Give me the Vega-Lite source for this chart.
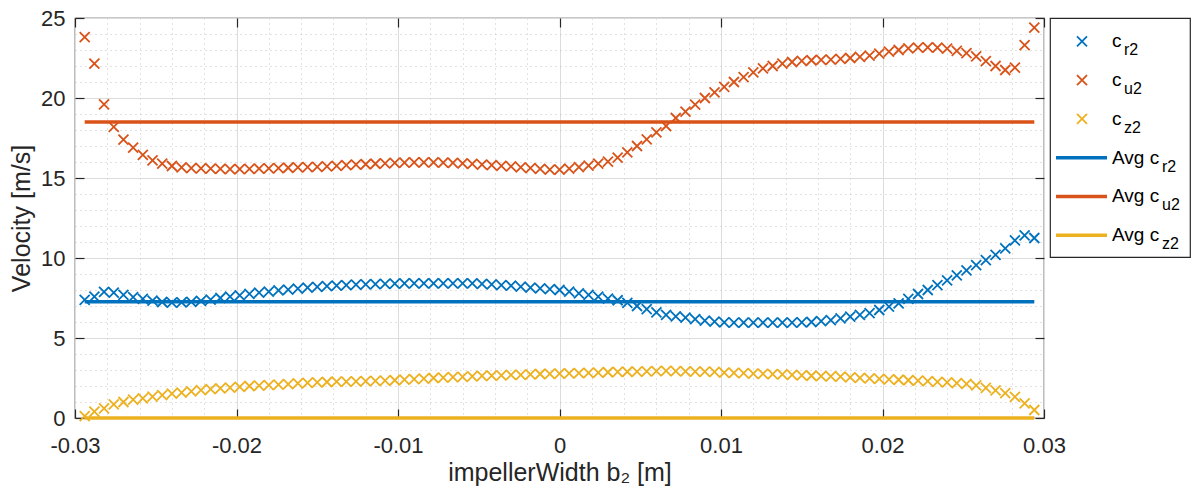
{
  "$schema": "https://vega.github.io/schema/vega-lite/v6.json",
  "background": "white",
  "padding": {"left": 8, "top": 6, "right": 0, "bottom": 0},
  "config": {
    "view": {"stroke": "#262626", "strokeWidth": 1.2},
    "font": "Liberation Sans",
    "axis": {"labelFont": "Liberation Sans", "titleFont": "Liberation Sans", "labelColor": "#262626", "titleColor": "#262626", "titleFontWeight": "normal"}
  },
  "datasets": {
    "pts": [
      {"x": -0.0294, "cr": 7.38, "cu": 23.8, "cz": 0.12},
      {"x": -0.0288, "cr": 7.58, "cu": 22.15, "cz": 0.4},
      {"x": -0.0282, "cr": 7.88, "cu": 19.6, "cz": 0.6},
      {"x": -0.0276, "cr": 7.83, "cu": 18.2, "cz": 0.85},
      {"x": -0.027, "cr": 7.7, "cu": 17.4, "cz": 1.0},
      {"x": -0.0264, "cr": 7.56, "cu": 16.9, "cz": 1.15},
      {"x": -0.0258, "cr": 7.44, "cu": 16.45, "cz": 1.23},
      {"x": -0.0252, "cr": 7.33, "cu": 16.1, "cz": 1.33},
      {"x": -0.0246, "cr": 7.25, "cu": 15.9, "cz": 1.43},
      {"x": -0.024, "cr": 7.21, "cu": 15.75, "cz": 1.53},
      {"x": -0.0234, "cr": 7.22, "cu": 15.67, "cz": 1.58},
      {"x": -0.0228, "cr": 7.26, "cu": 15.62, "cz": 1.67},
      {"x": -0.0222, "cr": 7.32, "cu": 15.6, "cz": 1.74},
      {"x": -0.0216, "cr": 7.4, "cu": 15.58, "cz": 1.8},
      {"x": -0.021, "cr": 7.5, "cu": 15.57, "cz": 1.85},
      {"x": -0.0204, "cr": 7.58, "cu": 15.56, "cz": 1.9},
      {"x": -0.0198, "cr": 7.66, "cu": 15.56, "cz": 1.95},
      {"x": -0.0192, "cr": 7.76, "cu": 15.57, "cz": 2.0},
      {"x": -0.0186, "cr": 7.84, "cu": 15.58, "cz": 2.03},
      {"x": -0.018, "cr": 7.9, "cu": 15.6, "cz": 2.06},
      {"x": -0.0174, "cr": 7.97, "cu": 15.62, "cz": 2.09},
      {"x": -0.0168, "cr": 8.03, "cu": 15.64, "cz": 2.12},
      {"x": -0.0162, "cr": 8.08, "cu": 15.66, "cz": 2.16},
      {"x": -0.0156, "cr": 8.15, "cu": 15.68, "cz": 2.2},
      {"x": -0.015, "cr": 8.2, "cu": 15.7, "cz": 2.22},
      {"x": -0.0144, "cr": 8.24, "cu": 15.73, "cz": 2.25},
      {"x": -0.0138, "cr": 8.27, "cu": 15.76, "cz": 2.27},
      {"x": -0.0132, "cr": 8.3, "cu": 15.8, "cz": 2.27},
      {"x": -0.0126, "cr": 8.34, "cu": 15.83, "cz": 2.29},
      {"x": -0.012, "cr": 8.35, "cu": 15.86, "cz": 2.31},
      {"x": -0.0114, "cr": 8.37, "cu": 15.89, "cz": 2.32},
      {"x": -0.0108, "cr": 8.38, "cu": 15.92, "cz": 2.33},
      {"x": -0.0102, "cr": 8.4, "cu": 15.94, "cz": 2.36},
      {"x": -0.0096, "cr": 8.42, "cu": 15.96, "cz": 2.4},
      {"x": -0.009, "cr": 8.42, "cu": 15.97, "cz": 2.43},
      {"x": -0.0084, "cr": 8.42, "cu": 15.98, "cz": 2.46},
      {"x": -0.0078, "cr": 8.42, "cu": 15.98, "cz": 2.5},
      {"x": -0.0072, "cr": 8.42, "cu": 15.96, "cz": 2.53},
      {"x": -0.0066, "cr": 8.42, "cu": 15.94, "cz": 2.55},
      {"x": -0.006, "cr": 8.42, "cu": 15.92, "cz": 2.57},
      {"x": -0.0054, "cr": 8.41, "cu": 15.88, "cz": 2.6},
      {"x": -0.0048, "cr": 8.38, "cu": 15.84, "cz": 2.63},
      {"x": -0.0042, "cr": 8.35, "cu": 15.8, "cz": 2.65},
      {"x": -0.0036, "cr": 8.31, "cu": 15.76, "cz": 2.66},
      {"x": -0.003, "cr": 8.27, "cu": 15.72, "cz": 2.69},
      {"x": -0.0024, "cr": 8.21, "cu": 15.67, "cz": 2.7},
      {"x": -0.0018, "cr": 8.15, "cu": 15.62, "cz": 2.73},
      {"x": -0.0012, "cr": 8.1, "cu": 15.57, "cz": 2.75},
      {"x": -0.0006, "cr": 8.05, "cu": 15.52, "cz": 2.76},
      {"x": 0.0, "cr": 8.0, "cu": 15.52, "cz": 2.78},
      {"x": 0.0006, "cr": 7.9, "cu": 15.58, "cz": 2.79},
      {"x": 0.0012, "cr": 7.79, "cu": 15.68, "cz": 2.8},
      {"x": 0.0018, "cr": 7.69, "cu": 15.77, "cz": 2.82},
      {"x": 0.0024, "cr": 7.58, "cu": 15.9, "cz": 2.84},
      {"x": 0.003, "cr": 7.46, "cu": 16.02, "cz": 2.86},
      {"x": 0.0036, "cr": 7.36, "cu": 16.28, "cz": 2.88},
      {"x": 0.0042, "cr": 7.2, "cu": 16.6, "cz": 2.89},
      {"x": 0.0048, "cr": 7.0, "cu": 17.0, "cz": 2.9},
      {"x": 0.0054, "cr": 6.8, "cu": 17.42, "cz": 2.91},
      {"x": 0.006, "cr": 6.6, "cu": 17.85, "cz": 2.93},
      {"x": 0.0066, "cr": 6.45, "cu": 18.25, "cz": 2.94},
      {"x": 0.0072, "cr": 6.35, "cu": 18.75, "cz": 2.93},
      {"x": 0.0078, "cr": 6.27, "cu": 19.15, "cz": 2.91},
      {"x": 0.0084, "cr": 6.18, "cu": 19.58, "cz": 2.9},
      {"x": 0.009, "cr": 6.08, "cu": 20.0, "cz": 2.9},
      {"x": 0.0096, "cr": 6.02, "cu": 20.35, "cz": 2.88},
      {"x": 0.0102, "cr": 5.98, "cu": 20.7, "cz": 2.84},
      {"x": 0.0108, "cr": 5.96, "cu": 21.0, "cz": 2.82},
      {"x": 0.0114, "cr": 5.96, "cu": 21.3, "cz": 2.8},
      {"x": 0.012, "cr": 5.96, "cu": 21.6, "cz": 2.78},
      {"x": 0.0126, "cr": 5.96, "cu": 21.85, "cz": 2.76},
      {"x": 0.0132, "cr": 5.96, "cu": 22.0, "cz": 2.74},
      {"x": 0.0138, "cr": 5.96, "cu": 22.15, "cz": 2.72},
      {"x": 0.0144, "cr": 5.96, "cu": 22.25, "cz": 2.7},
      {"x": 0.015, "cr": 5.97, "cu": 22.32, "cz": 2.67},
      {"x": 0.0156, "cr": 6.0, "cu": 22.36, "cz": 2.64},
      {"x": 0.0162, "cr": 6.05, "cu": 22.38, "cz": 2.62},
      {"x": 0.0168, "cr": 6.12, "cu": 22.4, "cz": 2.6},
      {"x": 0.0174, "cr": 6.23, "cu": 22.45, "cz": 2.58},
      {"x": 0.018, "cr": 6.33, "cu": 22.5, "cz": 2.54},
      {"x": 0.0186, "cr": 6.44, "cu": 22.57, "cz": 2.51},
      {"x": 0.0192, "cr": 6.56, "cu": 22.65, "cz": 2.48},
      {"x": 0.0198, "cr": 6.75, "cu": 22.78, "cz": 2.45},
      {"x": 0.0204, "cr": 6.96, "cu": 22.9, "cz": 2.42},
      {"x": 0.021, "cr": 7.17, "cu": 23.0, "cz": 2.39},
      {"x": 0.0216, "cr": 7.45, "cu": 23.1, "cz": 2.36},
      {"x": 0.0222, "cr": 7.75, "cu": 23.15, "cz": 2.33},
      {"x": 0.0228, "cr": 8.0, "cu": 23.17, "cz": 2.3},
      {"x": 0.0234, "cr": 8.3, "cu": 23.15, "cz": 2.26},
      {"x": 0.024, "cr": 8.6, "cu": 23.08, "cz": 2.22},
      {"x": 0.0246, "cr": 8.92, "cu": 22.95, "cz": 2.18},
      {"x": 0.0252, "cr": 9.23, "cu": 22.8, "cz": 2.13},
      {"x": 0.0258, "cr": 9.55, "cu": 22.6, "cz": 2.04},
      {"x": 0.0264, "cr": 9.87, "cu": 22.3, "cz": 1.88},
      {"x": 0.027, "cr": 10.2, "cu": 22.0, "cz": 1.72},
      {"x": 0.0276, "cr": 10.6, "cu": 21.75, "cz": 1.55},
      {"x": 0.0282, "cr": 11.1, "cu": 21.9, "cz": 1.32},
      {"x": 0.0288, "cr": 11.42, "cu": 23.3, "cz": 0.92},
      {"x": 0.0294, "cr": 11.25, "cu": 24.4, "cz": 0.5}
    ],
    "avg": [
      {"series": "cr", "v": 7.27, "x1": -0.0294, "x2": 0.0294},
      {"series": "cu", "v": 18.5, "x1": -0.0294, "x2": 0.0294},
      {"series": "cz", "v": 0.0, "x1": -0.0294, "x2": 0.0294}
    ],
    "leg": [
      {"row": 0, "kind": "m", "series": "cr", "main": "c", "sub": "r2"},
      {"row": 1, "kind": "m", "series": "cu", "main": "c", "sub": "u2"},
      {"row": 2, "kind": "m", "series": "cz", "main": "c", "sub": "z2"},
      {"row": 3, "kind": "l", "series": "cr", "main": "Avg c", "sub": "r2"},
      {"row": 4, "kind": "l", "series": "cu", "main": "Avg c", "sub": "u2"},
      {"row": 5, "kind": "l", "series": "cz", "main": "Avg c", "sub": "z2"}
    ]
  },
  "spacing": 6,
  "bounds": "flush",
  "hconcat": [
    {
      "width": 969,
      "height": 400,
      "layer": [
        {
          "data": {"name": "pts"},
          "transform": [{"fold": ["cr", "cu", "cz"], "as": ["series", "v"]}],
          "mark": {"type": "point", "shape": "M-1,-1L1,1M-1,1L1,-1", "filled": false, "size": 100, "strokeWidth": 1.8, "opacity": 1},
          "encoding": {
            "x": {
              "field": "x", "type": "quantitative",
              "scale": {"domain": [-0.03, 0.03], "nice": false, "zero": false},
              "axis": {
                "orient": "bottom",
                "title": "impellerWidth b₂ [m]",
                "titleFontSize": 25,
                "titlePadding": 4,
                "values": [-0.03, -0.028, -0.026, -0.024, -0.022, -0.02, -0.018, -0.016, -0.014, -0.012, -0.01, -0.008, -0.006, -0.004, -0.002, 0, 0.002, 0.004, 0.006, 0.008, 0.01, 0.012, 0.014, 0.016, 0.018, 0.02, 0.022, 0.024, 0.026, 0.028, 0.03],
                "format": ".2~f",
                "labelExpr": "abs(datum.value*100 - round(datum.value*100)) < 0.001 ? replace(datum.label, '−', '-') : ''",
                "labelFontSize": 22,
                "labelPadding": 26,
                "labelFlush": false,
                "labelOverlap": false,
                "domain": false,
                "grid": true,
                "gridColor": {"condition": {"test": "abs(datum.value*100 - round(datum.value*100)) < 0.001", "value": "#dcdcdc"}, "value": "#c4c4c4"},
                "gridDash": {"condition": {"test": "abs(datum.value*100 - round(datum.value*100)) < 0.001", "value": []}, "value": [1, 4]},
                "gridWidth": 1,
                "ticks": true,
                "tickSize": -9,
                "tickColor": "#262626",
                "tickWidth": 1.2,
                "tickOpacity": {"condition": {"test": "abs(datum.value*100 - round(datum.value*100)) < 0.001", "value": 1}, "value": 0}
              }
            },
            "y": {
              "field": "v", "type": "quantitative",
              "scale": {"domain": [0, 25], "nice": false, "zero": false},
              "axis": {
                "orient": "left",
                "title": "Velocity [m/s]",
                "titleFontSize": 25,
                "titlePadding": 6,
                "values": [0, 1, 2, 3, 4, 5, 6, 7, 8, 9, 10, 11, 12, 13, 14, 15, 16, 17, 18, 19, 20, 21, 22, 23, 24, 25],
                "labelExpr": "datum.value % 5 == 0 ? datum.label : ''",
                "labelFontSize": 22,
                "labelPadding": 19,
                "labelFlush": false,
                "labelOverlap": false,
                "domain": false,
                "grid": true,
                "gridColor": {"condition": {"test": "datum.value % 5 == 0", "value": "#dcdcdc"}, "value": "#c4c4c4"},
                "gridDash": {"condition": {"test": "datum.value % 5 == 0", "value": []}, "value": [1, 4]},
                "gridWidth": 1,
                "ticks": true,
                "tickSize": -9,
                "tickColor": "#262626",
                "tickWidth": 1.2,
                "tickOpacity": {"condition": {"test": "datum.value % 5 == 0", "value": 1}, "value": 0}
              }
            },
            "color": {"field": "series", "type": "nominal", "scale": {"domain": ["cr", "cu", "cz"], "range": ["#0072BD", "#D95319", "#EDB120"]}, "legend": null}
          }
        },
        {
          "data": {"name": "avg"},
          "mark": {"type": "rule", "strokeWidth": 3.5},
          "encoding": {
            "x": {
              "field": "x1", "type": "quantitative",
              "scale": {"domain": [-0.03, 0.03], "nice": false, "zero": false},
              "axis": {"orient": "top", "title": null, "values": [-0.03, -0.02, -0.01, 0, 0.01, 0.02, 0.03], "labels": false, "grid": false, "domain": false, "tickSize": -9, "tickColor": "#262626", "tickWidth": 1.2}
            },
            "x2": {"field": "x2"},
            "y": {
              "field": "v", "type": "quantitative",
              "scale": {"domain": [0, 25], "nice": false, "zero": false},
              "axis": {"orient": "right", "title": null, "values": [0, 5, 10, 15, 20, 25], "labels": false, "grid": false, "domain": false, "tickSize": -9, "tickColor": "#262626", "tickWidth": 1.2}
            },
            "color": {"field": "series", "type": "nominal", "scale": {"domain": ["cr", "cu", "cz"], "range": ["#0072BD", "#D95319", "#EDB120"]}, "legend": null}
          }
        }
      ],
      "resolve": {"axis": {"x": "independent", "y": "independent"}}
    },
    {
      "width": 140,
      "height": 239,
      "data": {"name": "leg"},
      "encoding": {
        "y": {"field": "row", "type": "quantitative", "scale": {"domain": [-0.6, 5.56], "reverse": true, "nice": false, "zero": false}, "axis": null},
        "color": {"field": "series", "type": "nominal", "scale": {"domain": ["cr", "cu", "cz"], "range": ["#0072BD", "#D95319", "#EDB120"]}, "legend": null}
      },
      "layer": [
        {
          "transform": [{"filter": "datum.kind == 'm'"}],
          "mark": {"type": "point", "shape": "M-1,-1L1,1M-1,1L1,-1", "filled": false, "size": 100, "strokeWidth": 1.8, "opacity": 1, "x": 32}
        },
        {
          "transform": [{"filter": "datum.kind == 'l'"}],
          "mark": {"type": "rule", "strokeWidth": 3.5, "x": 6, "x2": 57}
        },
        {
          "mark": {"type": "text", "x": 62, "align": "left", "baseline": "middle", "fontSize": 19, "font": "Liberation Sans"},
          "encoding": {"text": {"field": "main"}, "color": {"value": "#000000"}}
        },
        {
          "transform": [{"filter": "datum.kind == 'm'"}],
          "mark": {"type": "text", "x": 62, "dx": 12, "dy": 9, "align": "left", "baseline": "middle", "fontSize": 16, "font": "Liberation Sans"},
          "encoding": {"text": {"field": "sub"}, "color": {"value": "#000000"}}
        },
        {
          "transform": [{"filter": "datum.kind == 'l'"}],
          "mark": {"type": "text", "x": 62, "dx": 50, "dy": 9, "align": "left", "baseline": "middle", "fontSize": 16, "font": "Liberation Sans"},
          "encoding": {"text": {"field": "sub"}, "color": {"value": "#000000"}}
        }
      ]
    }
  ]
}
